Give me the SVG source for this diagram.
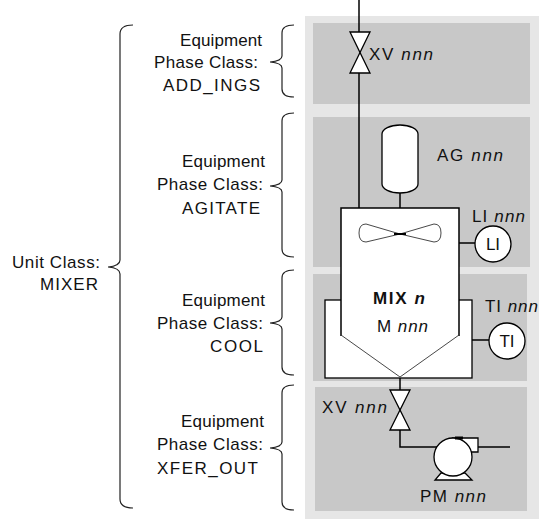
<svg xmlns="http://www.w3.org/2000/svg" width="539" height="519" viewBox="0 0 539 519">
<style>
text{font-family:"Liberation Sans",Arial,sans-serif;font-size:17px;fill:#111}
.lbl{text-anchor:end}
.it{font-style:italic}
.brace{fill:none;stroke:#222;stroke-width:1.2}
.pipe{fill:none;stroke:#000;stroke-width:1.5}
.eq{fill:#fff;stroke:#000;stroke-width:1.3}
.thin{fill:none;stroke:#333;stroke-width:0.9}
.outer{fill:#e6e6e6}
.panel{fill:#c8c8c8}
</style>
<rect class="outer" x="305" y="16" width="234" height="503"/>
<g id="panel-add-ings"><rect class="panel" x="313" y="23" width="217" height="81"/></g>
<g id="panel-agitate"><rect class="panel" x="313" y="117" width="217" height="150"/></g>
<g id="panel-cool"><rect class="panel" x="313" y="274" width="214" height="107"/></g>
<g id="panel-xfer-out"><rect class="panel" x="315" y="387" width="212" height="124"/></g>

<g id="labels">
<g id="unit-class"><text class="lbl" x="100" y="268" textLength="88" lengthAdjust="spacing">Unit Class:</text><text class="lbl" x="98" y="290" textLength="58" lengthAdjust="spacing">MIXER</text>
<path class="brace" d="M133,25 Q120,25 120,34 V260 Q120,266 108,267 Q120,268 120,274 V499 Q120,508 133,508"/></g>
<g id="lbl-add-ings"><text class="lbl" x="262" y="46" textLength="82" lengthAdjust="spacing">Equipment</text><text class="lbl" x="258" y="68" textLength="104" lengthAdjust="spacing">Phase Class:</text><text class="lbl" x="260" y="91" textLength="97" lengthAdjust="spacing">ADD_INGS</text>
<path class="brace" d="M294,25 Q282,25 282,33 V56 Q282,61 270,62 Q282,63 282,68 V89 Q282,97 294,97"/></g>
<g id="lbl-agitate"><text class="lbl" x="265" y="167" textLength="83" lengthAdjust="spacing">Equipment</text><text class="lbl" x="263" y="190" textLength="106" lengthAdjust="spacing">Phase Class:</text><text class="lbl" x="260" y="214" textLength="78" lengthAdjust="spacing">AGITATE</text>
<path class="brace" d="M294,113 Q282,113 282,121 V180 Q282,185 270,186 Q282,187 282,192 V249 Q282,257 294,257"/></g>
<g id="lbl-cool"><text class="lbl" x="265" y="306" textLength="83" lengthAdjust="spacing">Equipment</text><text class="lbl" x="263" y="329" textLength="106" lengthAdjust="spacing">Phase Class:</text><text class="lbl" x="263" y="352" textLength="53" lengthAdjust="spacing">COOL</text>
<path class="brace" d="M294,270 Q282,270 282,278 V317 Q282,322 270,323 Q282,324 282,329 V367 Q282,375 294,375"/></g>
<g id="lbl-xfer-out"><text class="lbl" x="264" y="427" textLength="83" lengthAdjust="spacing">Equipment</text><text class="lbl" x="263" y="450" textLength="106" lengthAdjust="spacing">Phase Class:</text><text class="lbl" x="258" y="474" textLength="101" lengthAdjust="spacing">XFER_OUT</text>
<path class="brace" d="M294,385 Q282,385 282,393 V442 Q282,447 270,448 Q282,449 282,454 V502 Q282,510 294,510"/></g>
</g>

<g id="connectors">
<path class="pipe" d="M359,0 V32"/>
<path class="pipe" d="M359,73 V208"/>
<path class="pipe" d="M400,193 V234"/>
<path class="pipe" d="M459,243 H475"/>
<path class="pipe" d="M472,340 H489"/>
<path class="pipe" d="M400,377 V390"/>
<path class="pipe" d="M400,430 V447 H437"/>
<path class="pipe" d="M478,447 H510"/>
</g>

<g id="valve-top"><polygon class="eq" points="350,32 370,32 360,52.5"/><polygon class="eq" points="350,73 370,73 360,52.5"/>
<text x="369" y="60" textLength="64" lengthAdjust="spacing">XV <tspan class="it">nnn</tspan></text></g>

<g id="agitator"><rect class="eq" x="382" y="125" width="36" height="68" rx="18" ry="9"/>
<text x="437" y="161" textLength="66" lengthAdjust="spacing">AG <tspan class="it">nnn</tspan></text></g>

<g id="mixer">
<rect class="eq" x="325" y="300" width="147" height="78"/>
<rect x="341" y="208" width="118" height="127" fill="#fff"/>
<path d="M341,336 V208 H459 V336" fill="none" stroke="#000" stroke-width="1.5"/>
<path class="thin" d="M341,335 L400,377 L459,335"/>
<path class="thin" d="M400,234 L366,224 Q359,224 359,233 Q359,242 366,242 Z"/>
<path class="thin" d="M400,234 L434,224 Q441,224 441,233 Q441,242 434,242 Z"/>
<rect x="394" y="233" width="12" height="2" fill="#000"/>
<text x="373" y="304" font-weight="bold" textLength="52" lengthAdjust="spacing">MIX <tspan class="it">n</tspan></text>
<text x="377" y="332" textLength="51" lengthAdjust="spacing">M <tspan class="it">nnn</tspan></text>
</g>

<g id="li"><circle class="eq" cx="493" cy="244" r="18"/><text x="493" y="250" text-anchor="middle">LI</text>
<text x="472" y="222" textLength="53" lengthAdjust="spacing">LI <tspan class="it">nnn</tspan></text></g>

<g id="ti"><circle class="eq" cx="507" cy="341" r="18"/><text x="507" y="347" text-anchor="middle">TI</text>
<text x="485" y="312" textLength="53" lengthAdjust="spacing">TI <tspan class="it">nnn</tspan></text></g>

<g id="valve-bottom"><polygon class="eq" points="390,390 410,390 400,410"/><polygon class="eq" points="390,430 410,430 400,410"/>
<text x="322" y="413" textLength="65" lengthAdjust="spacing">XV <tspan class="it">nnn</tspan></text></g>

<g id="pump">
<polygon class="eq" points="441,473 465,473 472,480 435,480"/>
<path class="eq" d="M453,438 H478 V452 H468 Z"/>
<circle class="eq" cx="453" cy="457" r="19"/>
<rect x="455" y="436.5" width="8" height="3" fill="#000"/>
<text x="420" y="502" textLength="66" lengthAdjust="spacing">PM <tspan class="it">nnn</tspan></text>
</g>
</svg>
